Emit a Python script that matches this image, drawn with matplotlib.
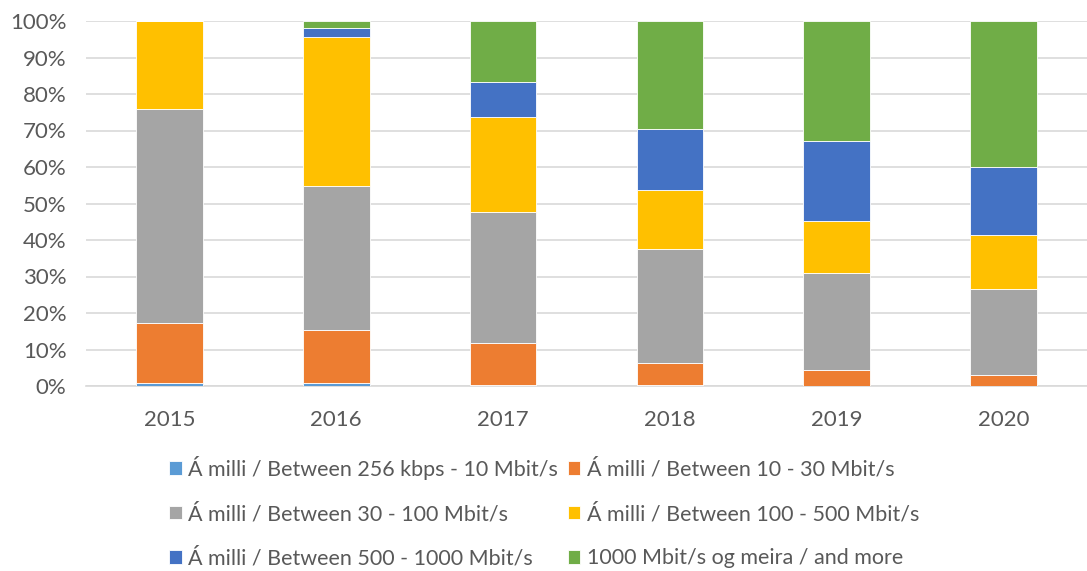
import numpy as np
import matplotlib.pyplot as plt
from matplotlib.ticker import PercentFormatter

years = ["2015", "2016", "2017", "2018", "2019", "2020"]

# share of connections per speed band, in percent
s_256k_10 = [0.9, 0.9, 0.4, 0.2, 0.1, 0.1]
s_10_30 = [16.4, 14.4, 11.3, 6.2, 4.4, 2.8]
s_30_100 = [58.5, 39.6, 36.0, 31.1, 26.4, 23.7]
s_100_500 = [24.2, 40.7, 26.1, 16.1, 14.4, 14.7]
s_500_1000 = [0.0, 2.5, 9.4, 16.7, 21.9, 18.6]
s_1000_up = [0.0, 1.9, 16.8, 29.7, 32.8, 40.1]

labels = [
    "Á milli / Between 256 kbps - 10 Mbit/s",
    "Á milli / Between 10 - 30 Mbit/s",
    "Á milli / Between 30 - 100 Mbit/s",
    "Á milli / Between 100 - 500 Mbit/s",
    "Á milli / Between 500 - 1000 Mbit/s",
    "1000 Mbit/s og meira / and more",
]
colors = ["#5B9BD5", "#ED7D31", "#A5A5A5", "#FFC000", "#4472C4", "#70AD47"]

plt.rcParams['font.family'] = ['Lato', 'DejaVu Sans']

fig = plt.figure(figsize=(10.87, 5.71), dpi=100)
ax = fig.add_axes([86 / 1087, 1 - 386 / 571, 1001 / 1087, 365 / 571])

x = np.arange(len(years))
bottom = np.zeros(len(years))
series = [s_256k_10, s_10_30, s_30_100, s_100_500, s_500_1000, s_1000_up]
for vals, lab, col in zip(series, labels, colors):
    ax.bar(x, vals, 0.4, bottom=bottom, color=col, label=lab,
           edgecolor='white', linewidth=0.6, zorder=3)
    bottom += np.array(vals)

ax.set_xlim(-0.5, len(years) - 0.5)
ax.set_ylim(0, 100)
ax.set_yticks(np.arange(0, 101, 10))
ax.yaxis.set_major_formatter(PercentFormatter(decimals=0))
ax.set_xticks(x)
ax.set_xticklabels(years)
ax.grid(axis='y', color='#D9D9D9', linewidth=1.2, zorder=0)
for s in ['top', 'right', 'left']:
    ax.spines[s].set_visible(False)
ax.spines['bottom'].set_color('#D9D9D9')
ax.spines['bottom'].set_linewidth(1.2)
ax.tick_params(length=0, labelsize=16, colors='#595959')
ax.tick_params(axis='y', pad=14)
ax.tick_params(axis='x', pad=17)

# legend is filled row by row in the reference
handles, labs = ax.get_legend_handles_labels()
order = [0, 2, 4, 1, 3, 5]
ax.legend([handles[i] for i in order], [labs[i] for i in order],
          loc='upper left', bbox_to_anchor=(160 / 1087, 1 - 447 / 571),
          bbox_transform=fig.transFigure, ncol=2, frameon=False,
          fontsize=15.5, labelcolor='#595959', handlelength=0.6,
          handleheight=0.6, handletextpad=0.3, columnspacing=0.45,
          labelspacing=1.12, borderaxespad=0)

fig.savefig("out.png", dpi=100)
